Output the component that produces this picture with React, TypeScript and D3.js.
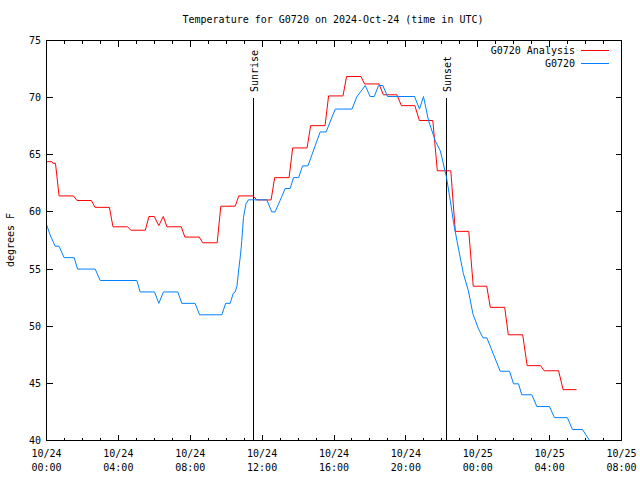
import React from "react";
import * as d3 from "d3";

// hours since 2024-10-24 00:00 UTC
const analysisHours = [0, 0.3, 0.35, 0.5, 0.7, 1.5, 1.7, 2.5, 2.7, 3.5, 3.7, 4.5, 4.7, 5.5, 5.7, 6.0, 6.25, 6.5, 6.7, 7.5, 7.7, 8.5, 8.7, 9.5, 9.7, 10.5, 10.7, 11.5, 11.7, 12.5, 12.7, 13.5, 13.7, 14.5, 14.7, 15.5, 15.7, 16.5, 16.7, 17.5, 17.7, 18.5, 18.75, 19.5, 19.75, 20.5, 20.75, 21.5, 21.75, 22.5, 22.75, 23.5, 23.75, 24.5, 24.7, 25.5, 25.7, 26.5, 26.75, 27.5, 27.7, 28.5, 28.75, 29.5];
const analysisTemps = [64.4, 64.4, 64.26, 64.26, 61.4, 61.4, 61.0, 61.0, 60.4, 60.4, 58.7, 58.7, 58.4, 58.4, 59.6, 59.6, 58.8, 59.6, 58.7, 58.7, 57.8, 57.8, 57.3, 57.3, 60.5, 60.5, 61.4, 61.4, 61.05, 61.05, 63.0, 63.0, 65.6, 65.6, 67.55, 67.55, 70.15, 70.15, 71.85, 71.85, 71.2, 71.2, 70.25, 70.25, 69.3, 69.3, 68.0, 68.0, 63.6, 63.6, 58.3, 58.3, 53.5, 53.5, 51.65, 51.65, 49.25, 49.25, 46.55, 46.55, 46.1, 46.1, 44.45, 44.45];

const obsHours = [0, 0.2, 0.48, 0.7, 0.98, 1.54, 1.73, 2.71, 2.99, 5.03, 5.21, 6.01, 6.25, 6.51, 7.31, 7.53, 8.27, 8.52, 9.76, 9.97, 10.22, 10.4, 10.5, 10.6, 10.7, 10.8, 10.87, 10.96, 11.1, 11.24, 12.26, 12.54, 12.72, 13.0, 13.28, 13.56, 13.75, 14.03, 14.25, 14.55, 15.23, 15.56, 16.07, 17.0, 17.27, 17.74, 18.01, 18.24, 18.48, 18.72, 18.98, 20.48, 20.76, 20.98, 21.26, 21.63, 21.91, 22.0, 22.26, 22.47, 22.65, 22.84, 23.02, 23.2, 23.48, 23.73, 24.04, 24.29, 24.51, 24.79, 25.25, 25.77, 25.99, 26.27, 26.45, 27.01, 27.29, 27.99, 28.27, 28.99, 29.27, 29.83, 30.22, 30.4];
const obsTemps = [58.9, 58.0, 57.0, 57.0, 56.0, 56.0, 55.0, 55.0, 54.0, 54.0, 53.0, 53.0, 52.0, 53.0, 53.0, 52.0, 52.0, 51.0, 51.0, 52.0, 52.0, 52.9, 53.0, 53.5, 55.0, 56.3, 57.5, 59.5, 60.7, 61.06, 61.06, 60.0, 60.0, 61.0, 62.05, 62.05, 63.0, 63.0, 64.03, 64.03, 67.0, 67.0, 69.0, 69.0, 70.07, 71.06, 70.1, 70.1, 71.06, 71.06, 70.1, 70.1, 69.0, 70.1, 68.0, 66.25, 65.37, 64.8, 63.04, 61.0, 59.1, 57.5, 56.04, 54.6, 53.1, 51.08, 49.77, 48.98, 48.98, 47.87, 46.06, 46.06, 44.96, 44.96, 44.0, 44.0, 42.97, 42.97, 42.0, 42.0, 40.96, 40.96, 40.0, 39.6];

const xTickHours = [0, 4, 8, 12, 16, 20, 24, 28, 32];
const xTickDates = ["10/24", "10/24", "10/24", "10/24", "10/24", "10/24", "10/25", "10/25", "10/25"];
const xTickTimes = ["00:00", "04:00", "08:00", "12:00", "16:00", "20:00", "00:00", "04:00", "08:00"];
const yTicks = [40, 45, 50, 55, 60, 65, 70, 75];

const sunEvents = ["Sunrise", "Sunset"];
const sunHours = [11.47, 22.22];

const seriesNames = ["G0720 Analysis", "G0720"];
const seriesColors = ["#ff0000", "#0080ff"];

const title = "Temperature for G0720 on 2024-Oct-24 (time in UTC)";
const yLabel = "degrees F";

const W = 640, H = 480;
const L = 46.5, R = 621.5, T = 40.5, B = 440.5;
const FONT = "'DejaVu Sans Mono', 'Liberation Mono', monospace";

export default function App() {
  const x = d3.scaleLinear().domain([0, 32]).range([L, R]);
  const y = d3.scaleLinear().domain([40, 75]).range([B, T]);
  const line = d3.line<[number, number]>().x(d => x(d[0])).y(d => y(d[1]));
  const red = analysisHours.map((h, i) => [h, analysisTemps[i]] as [number, number]);
  const blue = obsHours.map((h, i) => [h, obsTemps[i]] as [number, number]);
  const minor = d3.range(0, 33).filter(h => h % 4 !== 0);

  return (
    <svg width={W} height={H} style={{ display: "block", position: "absolute", left: 0, top: 0, background: "#fff" }} fontFamily={FONT} fontSize={10}>
      <defs>
        <clipPath id="plot">
          <rect x={L} y={T} width={R - L} height={B - T} />
        </clipPath>
      </defs>
      <rect x={0} y={0} width={W} height={H} fill="#fff" />
      <text x={333} y={23} textAnchor="middle">{title}</text>
      <text transform={`translate(14,240) rotate(-90)`} textAnchor="middle">{yLabel}</text>

      <g shapeRendering="crispEdges" stroke="#000" strokeWidth={1}>
        {xTickHours.map(h => (
          <g key={"M" + h}>
            <line x1={x(h)} x2={x(h)} y1={B} y2={B - 6} />
            <line x1={x(h)} x2={x(h)} y1={T} y2={T + 6} />
          </g>
        ))}
        {minor.map(h => (
          <g key={"m" + h}>
            <line x1={x(h)} x2={x(h)} y1={B} y2={B - 3} />
            <line x1={x(h)} x2={x(h)} y1={T} y2={T + 3} />
          </g>
        ))}
        {yTicks.map(v => (
          <g key={"y" + v}>
            <line x1={L} x2={L + 6} y1={y(v)} y2={y(v)} />
            <line x1={R} x2={R - 6} y1={y(v)} y2={y(v)} />
          </g>
        ))}
      </g>

      {yTicks.map(v => (
        <text key={"yl" + v} x={41} y={y(v) + 3.5} textAnchor="end">{v}</text>
      ))}
      {xTickHours.map((h, i) => (
        <g key={"xl" + h}>
          <text x={x(h)} y={457} textAnchor="middle">{xTickDates[i]}</text>
          <text x={x(h)} y={471} textAnchor="middle">{xTickTimes[i]}</text>
        </g>
      ))}

      {sunHours.map((h, i) => (
        <g key={sunEvents[i]}>
          <line x1={Math.round(x(h)) + 0.5} x2={Math.round(x(h)) + 0.5} y1={98} y2={B} stroke="#000" shapeRendering="crispEdges" />
          <text transform={`translate(${Math.round(x(h)) + 5},92) rotate(-90)`} textAnchor="start">{sunEvents[i]}</text>
        </g>
      ))}

      <g clipPath="url(#plot)" fill="none" strokeWidth={1}>
        <path d={line(red) || ""} stroke={seriesColors[0]} />
        <path d={line(blue) || ""} stroke={seriesColors[1]} />
      </g>

      {seriesNames.map((n, i) => (
        <g key={n}>
          <text x={575} y={53.5 + i * 13} textAnchor="end">{n}</text>
          <line x1={581} x2={609} y1={50.5 + i * 13} y2={50.5 + i * 13} stroke={seriesColors[i]} shapeRendering="crispEdges" />
        </g>
      ))}

      <rect x={L} y={T} width={R - L} height={B - T} fill="none" stroke="#000" shapeRendering="crispEdges" />
    </svg>
  );
}
